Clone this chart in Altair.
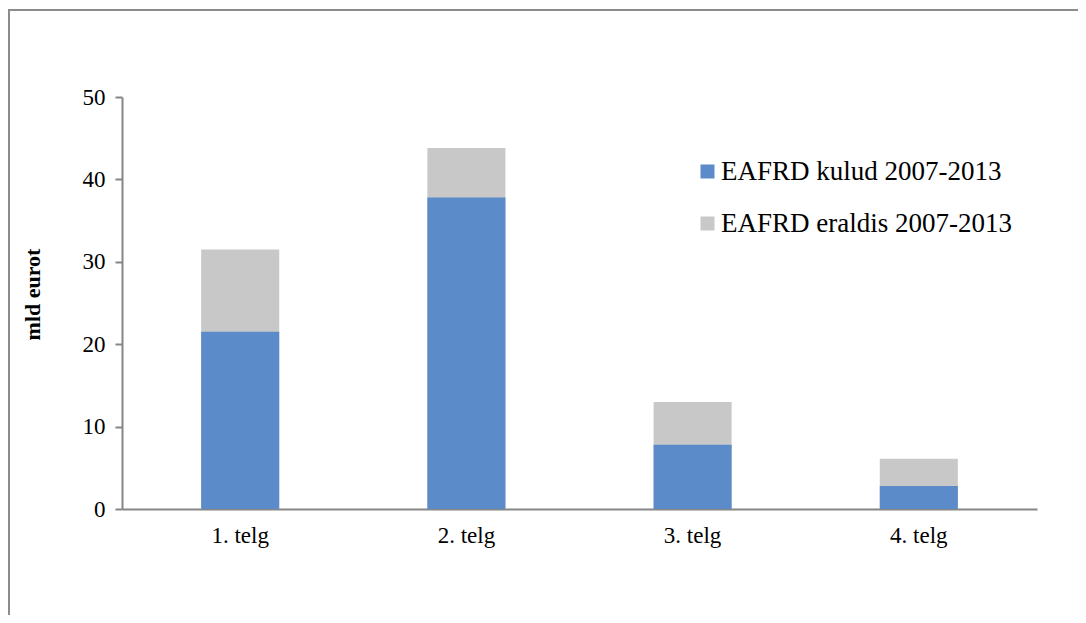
import altair as alt
import pandas as pd

categories = ["1. telg", "2. telg", "3. telg", "4. telg"]
kulud = [21.5, 37.8, 7.8, 2.8]
eraldis = [31.5, 43.8, 13.0, 6.1]
series_names = ["EAFRD kulud 2007-2013", "EAFRD eraldis 2007-2013"]
series_colors = ["#5B8BC8", "#C8C8C8"]
y_ticks = [0, 10, 20, 30, 40, 50]

rows = []
for c, k, e in zip(categories, kulud, eraldis):
    rows.append({"telg": c, "seeria": series_names[1], "value": e})
    rows.append({"telg": c, "seeria": series_names[0], "value": k})
df = pd.DataFrame(rows)

FONT = "Liberation Serif"
AXIS_GRAY = "#868686"

x_enc = alt.X(
    "telg:N",
    sort=categories,
    scale=alt.Scale(paddingInner=0.655, paddingOuter=0.35),
    axis=alt.Axis(
        title=None, labelAngle=0, ticks=False, domainColor=AXIS_GRAY,
        domainWidth=2, labelFont=FONT, labelFontSize=23, labelColor="black",
        labelPadding=15,
    ),
)
y_enc = alt.Y(
    "value:Q",
    stack=None,
    scale=alt.Scale(domain=[0, 50], nice=False),
    axis=alt.Axis(
        title="mld eurot", values=y_ticks, grid=False, domainColor=AXIS_GRAY,
        domainWidth=2, tickColor=AXIS_GRAY, tickWidth=2, tickSize=7,
        labelFont=FONT, labelFontSize=23, labelColor="black", labelPadding=10,
        titleFont=FONT, titleFontSize=22, titleFontWeight="bold",
        titleColor="black", titlePadding=38, titleY=197,
    ),
)
color_enc = alt.Color(
    "seeria:N",
    scale=alt.Scale(domain=series_names, range=series_colors),
    legend=alt.Legend(
        title=None, orient="none", legendX=572, legendY=61,
        symbolType="square", symbolSize=196, symbolStrokeWidth=0,
        labelFont=FONT, labelFontSize=27, labelColor="black",
        labelOffset=0, rowPadding=24, labelLimit=500,
    ),
)

base = alt.Chart(df)
gray_bars = base.mark_bar().encode(x=x_enc, y=y_enc, color=color_enc).transform_filter(
    alt.datum.seeria == series_names[1]
)
blue_bars = base.mark_bar().encode(x=x_enc, y=y_enc, color=color_enc).transform_filter(
    alt.datum.seeria == series_names[0]
)

border = alt.Chart(alt.Data(values=[{"a": 1}])).mark_rect(
    fillOpacity=0, stroke="#8c8c8c", strokeWidth=2
).encode(
    x=alt.value(-113), x2=alt.value(1000), y=alt.value(-87), y2=alt.value(700)
)

chart = alt.layer(border, gray_bars, blue_bars).properties(
    width=915,
    height=412,
    autosize=alt.AutoSizeParams(type="none"),
    padding={"left": 114, "top": 89, "right": 41, "bottom": 106},
).configure_view(stroke=None)

chart.save("out.html", embed_options={"renderer": "svg", "actions": False})
